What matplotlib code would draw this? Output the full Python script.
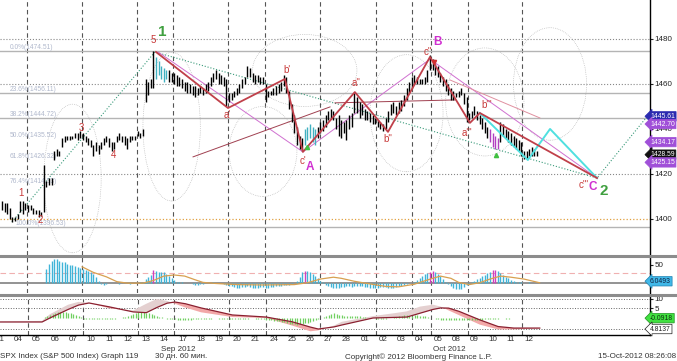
import matplotlib
matplotlib.use("Agg")
import matplotlib.pyplot as plt
from matplotlib.lines import Line2D
from matplotlib.patches import Ellipse

plt.rcParams['font.family'] = ['Liberation Sans', 'DejaVu Sans']

# ---------------- data ----------------
day_labels = ["31", "04", "05", "06", "07", "10", "11", "12", "13", "14", "17", "18", "19", "20", "21",
              "24", "25", "26", "27", "28", "01", "02", "03", "04", "05", "08", "09", "10", "11", "12"]

highs = [1408, 1407, 1407, 1405, 1401, 1401, 1402, 1408, 1408, 1407, 1406, 1406, 1405, 1404, 1404, 1403,
         1424, 1417, 1418, 1418, 1430, 1431, 1430, 1436, 1437, 1437, 1437, 1437, 1438, 1438, 1439, 1438,
         1437, 1436, 1435, 1433, 1434, 1433, 1434, 1436, 1437, 1436, 1434, 1434, 1437, 1438, 1437, 1437,
         1436, 1437, 1437, 1437, 1439, 1438, 1440, 1462, 1461, 1462, 1474.5, 1472, 1470, 1468, 1467, 1466,
         1466, 1465, 1465, 1464, 1463, 1462, 1461, 1461, 1460, 1459, 1459, 1458, 1459, 1458, 1460, 1461,
         1463, 1465, 1466, 1465, 1464, 1463, 1462, 1456, 1456, 1457, 1458, 1460, 1462, 1463, 1468, 1467,
         1465, 1464, 1464, 1463, 1463, 1460, 1457, 1457, 1458, 1459, 1460, 1461, 1464, 1463, 1457, 1451,
         1446, 1441, 1437, 1436, 1440, 1441, 1442, 1441, 1440, 1441, 1443, 1444, 1446, 1448, 1449, 1448,
         1445, 1446, 1444, 1443, 1444, 1446, 1447, 1456, 1454, 1452, 1451, 1449, 1448, 1447, 1446, 1445,
         1444, 1443, 1442, 1445, 1448, 1451, 1452, 1450, 1452, 1453, 1455, 1458, 1461, 1463, 1464, 1463,
         1462, 1462, 1463, 1466, 1473, 1471, 1469, 1468, 1465, 1463, 1462, 1460, 1458, 1457, 1456, 1457,
         1458, 1456, 1454, 1447, 1448, 1450, 1448, 1446, 1445, 1443, 1441, 1440, 1438, 1437, 1436, 1443,
         1442, 1440, 1439, 1438, 1437, 1436, 1435, 1434, 1430, 1430, 1431, 1432, 1431, 1430]
lows = [1404, 1403, 1402, 1400, 1398.5, 1399, 1400, 1403, 1402, 1404, 1403, 1404, 1402, 1402, 1401, 1401.5,
        1403, 1414, 1415, 1415, 1426, 1428, 1428, 1432, 1434, 1435, 1435, 1435.5, 1436, 1435, 1436, 1435,
        1434, 1433, 1432, 1428, 1430, 1429, 1431, 1433, 1434, 1432, 1430, 1431, 1434, 1435, 1434, 1433,
        1431, 1434, 1435, 1435, 1437, 1436, 1437, 1452, 1455, 1458, 1458, 1462, 1464, 1462, 1461, 1462,
        1461, 1461, 1460, 1459, 1459, 1458, 1457, 1456, 1456, 1455, 1454, 1455, 1456, 1455, 1456, 1457,
        1459, 1461, 1462, 1460, 1460, 1459, 1450, 1452, 1453, 1454, 1455, 1456, 1458, 1460, 1463, 1463,
        1461, 1460, 1461, 1460, 1460, 1452, 1454, 1455, 1455, 1455, 1456, 1457, 1459, 1456, 1449, 1443,
        1438, 1433, 1431, 1430, 1433, 1435, 1436, 1434, 1433, 1436, 1438, 1439, 1441, 1444, 1445, 1444,
        1440, 1437, 1436, 1438, 1435, 1440, 1441, 1447, 1447, 1445, 1446, 1444, 1444, 1443, 1442, 1442,
        1441, 1440, 1439, 1440, 1443, 1446, 1447, 1446, 1447, 1448, 1450, 1453, 1456, 1458, 1460, 1460,
        1460, 1460, 1460, 1461, 1466, 1466, 1464, 1463, 1461, 1459, 1457, 1455, 1453, 1453, 1454, 1454,
        1455, 1451, 1443, 1444, 1445, 1446, 1444, 1442, 1440, 1438, 1436, 1434, 1432, 1431, 1431, 1434,
        1437, 1436, 1434, 1433, 1432, 1431, 1430, 1428, 1426.5, 1427, 1428, 1428, 1428, 1428]

# fibonacci retracement levels
fib_pct = ["0.0%", "23.6%", "38.2%", "50.0%", "61.8%", "76.4%", "100.0%"]
fib_val = [1474.51, 1456.11, 1444.72, 1435.52, 1426.32, 1414.93, 1396.53]

# Elliott wave zigzag (bar index, price)
wave_k = [59.0, 86.6, 108.4, 115.3, 135.2, 147.9, 164.0, 179.3, 183.1, 228.0]
wave_p = [1474.2, 1449.3, 1462.2, 1429.8, 1456.4, 1438.7, 1472.0, 1442.7, 1447.1, 1418.2]
trend_k = [3.8, 58.6, 228.0, 248.3]
trend_p = [1398.7, 1474.2, 1418.2, 1447.1]
cyan_k = [183.1, 201.5, 210.0, 228.0]
cyan_p = [1447.1, 1426.2, 1440.0, 1418.2]
abc_k = [59.8, 115.3, 164.0, 228.0]
abc_p = [1474.2, 1429.8, 1471.0, 1418.2]
chan1_k, chan1_p = [73.2, 125.7], [1427.6, 1449.8]
chan2_k, chan2_p = [127.6, 173.6], [1451.6, 1452.9]
chan3_k, chan3_p = [171.6, 206.1], [1461.8, 1444.9]

# oscillator panel (histogram from bar 17)
osc_start = 17
osc = [40, 52, 62, 66, 65, 62, 59, 57, 54, 51, 49, 47, 44, 41, 38, 36, 33, 30, 26, 18, 8, -2, -4, -2,
       1, 2, 1, 0, -1, 0, 1, 0, -1, 0, 1, 2, 3, 5,
       12, 18, 24, 36, 34, 31, 32, 30, 25, 20, 14, 9,
       5, 4, 3, 2, 1, 0, -2, -3,
       -3, -2, -1, 0, 1,
       2, 3, 2, 1, 0, -1, -3,
       -6, -8, -10, -11, -12, -10, -9, -8, -10, -11, -12, -11, -10, -9, -11, -12, -10, -9, -8, -7, -6, -5,
       -4, -3, -2, 2, 8,
       18, 30, 35, 33, 30, 26, 20, 14, 8, 3,
       -3, -7, -10, -12, -12,
       -11, -10, -9, -8, -8, -9, -7, -6, -7, -8, -9, -10, -11, -12, -12, -11, -10, -9, -10, -11, -12, -11,
       -10, -8, -6, -4,
       -2, 0, 2, 5,
       10, 15, 20, 25,
       28, 32, 34, 31, 26, 20, 12, 5, -2,
       -8, -12, -15, -16, -14, -10,
       -5, -1, 3, 8,
       12, 16, 20, 24, 28,
       32, 36, 37, 34, 28, 22, 18, 14, 10,
       6, 4, 3, 3, 2, 2, 3, 2, 2, 1]
osc_hi = [58, 116, 164, 165, 188, 189]
sig_k = [30.7, 35, 40, 44, 48, 54, 58, 62, 66, 70, 74, 77, 82, 90, 100, 112, 117, 122, 127, 130, 135, 140,
         147, 152, 158, 165, 168, 172, 175, 179, 183, 187, 191, 195, 200, 206]
sig_v = [45, 30, 18, 5, 1, 1, 8, 20, 23, 20, 10, 3, 0, -3, -4, -3, 2, 12, 17, 14, 6, 0,
         -8, -9, -2, 14, 20, 14, 3, -3, 2, 12, 20, 17, 12, 2]

# MACD panel
macd_k = [-1, 15, 18, 25, 29, 33, 41, 50, 55, 59, 63, 66, 70, 76, 88, 101, 111, 118, 121, 127, 130, 142,
          150, 155, 160, 165, 168, 171, 175, 183, 190, 196, 206]
macd_slow = [-2.1, -2.1, 0, 4.5, 6.8, 7.9, 5.8, 3.2, 2.8, 5.5, 7.8, 8.4, 7.5, 5.3, 1.6, 0.5, -2, -4.8, -5.8,
             -4.7, -3.7, 0, 0.3, 0.5, 2.5, 4.5, 5.3, 5.2, 3.5, -1, -4.5, -5.3, -5.3]
macd_fast = [-2, -1.5, 2, 7, 8.5, 8, 5, 4, 7.5, 10, 9, 7.5, 5.5, 3, 0.5, 0, -4, -7, -6.5, -4, -2, 1,
             2.5, 3.5, 6, 7, 6, 4, 1.5, -3.5, -6, -6, -5.5]
ghist_start = 16
ghist = [0.5, 1, 1.5, 2, 2.5, 3, 3, 3.2, 3, 2.8, 2.5, 2, 1.5, 1, 0.5,
         -0.3, -0.5, -0.5, -0.6, -0.5, -0.4, -0.3, -0.3, -0.4, -0.5, -0.5, -0.4, -0.3, -0.2, 0, 0.3, 0.6, 1, 1.5, 2,
         2.5, 3, 3.2, 3, 2.8, 2.5, 2, 1.5, 1, 0.5, 0.3, 0, -0.3, -0.5, -0.6, -0.7,
         -0.8, -0.9, -1, -1, -0.9, -0.8, -0.7, -0.6, -0.5, -0.5, -0.4, -0.4, -0.3, -0.3, -0.2, -0.2, -0.3, -0.4,
         -0.5, -0.5, -0.6, -0.6, -0.5, -0.5, -0.4, -0.4, -0.3, -0.3, -0.2, -0.2, -0.3, -0.4, -0.5, -0.6, -0.8,
         -1, -1.2, -1.4, -1.6, -1.8, -2, -2.3, -2.6, -2.9,
         -3.2, -3.4, -3.5, -3.4, -3.2, -2.8, -2.4, -2, -1.5, -1, -0.5, 0, 0.6, 1.2, 1.8,
         2.2, 2.4, 2.2, 1.8, 1.4, 1, 0.8, 0.9, 1.1, 1.3, 1.2, 1, 0.7, 0.4, 0.2,
         0, -0.2, -0.4, -0.5, -0.5, -0.4, -0.3, -0.2, 0, 0.3, 0.6, 0.9, 1.2, 1.5, 1.4, 1.2, 1.3, 1.5, 1.4, 1.2,
         1, 0.8, 0.5, 0.2, 0, -0.3, -0.6, -0.9, -1.1, -1.2, -1.3, -1.2, -1.1, -1.2, -1.3,
         -1.2, -1.1, -1, -0.9, -1, -1.1, -1, -0.9, -0.8, -0.7, -0.6, -0.5, -0.4, -0.3, -0.3, -0.2, -0.2, -0.3,
         -0.3, -0.2, -0.2, -0.1, -0.1, 0, -0.1, -0.1, 0, 0, -0.1, -0.1, 0]

grid_k = [9.6, 30.7, 51.7, 65.5, 86.6, 100.8, 121.8, 143.3, 157.1, 164.4, 178.5, 199.2]

price_tags = [("1445.61", 1445.61, "#2b2bb0", "white"), ("1442.70", 1442.2, "#a050d8", "white"),
              ("1434.17", 1434.17, "#a050d8", "white"), ("1428.59", 1428.59, "#111111", "white"),
              ("1425.15", 1425.15, "#a050d8", "white")]

# ---------------- figure ----------------
W, H = 677, 361
fig = plt.figure(figsize=(W / 100, H / 100), dpi=100)
fig.patch.set_facecolor("white")
right = 650 / W
ax1 = fig.add_axes([0, 1 - 255 / H, right, 255 / H])
ax2 = fig.add_axes([0, 1 - 293 / H, right, 36 / H])
ax3 = fig.add_axes([0, 1 - 335 / H, right, 38 / H])

xmin, xmax = -0.77, 248.3
FS = 5.8
TAGFS = 4.9
TAGX = 1.0
TAGBOX = "larrow,pad=0.18"
for ax in (ax1, ax2, ax3):
    ax.set_xlim(xmin, xmax)
    ax.set_facecolor("white")
    for s in ("left", "top", "bottom"):
        ax.spines[s].set_visible(False)
    ax.spines["right"].set_color("black")
    ax.spines["right"].set_linewidth(1)
    ax.yaxis.tick_right()
    ax.tick_params(axis="y", length=2, pad=1.5, labelsize=FS, colors="#222222")
    for g in grid_k:
        ax.axvline(g, color="#555555", lw=0.8, ls=(0, (4, 3)), zorder=1)
ax3.spines["bottom"].set_visible(True)
ax3.spines["bottom"].set_linewidth(1)

# ---- main price panel ----
ax1.set_ylim(1384, 1497.3)
ax1.set_xticks([])
ax1.set_yticks([1400, 1420, 1440, 1460, 1480])
for lv in (1420, 1460, 1480):
    ax1.axhline(lv, color="#888888", lw=0.8, ls=":", zorder=1)
ax1.axhline(1400, color="#e0a040", lw=0.9, ls=":", zorder=1)
for pct, v in zip(fib_pct, fib_val):
    if pct in ("0.0%", "23.6%", "38.2%", "100.0%"):
        ax1.axhline(v, color="#b4b4b4", lw=1.0, zorder=1)
    xk = 5.0 if pct == "100.0%" else 3.1
    ax1.text(xk, v + 1.6, f"{pct}({v:.2f})", fontsize=4.8, color="#b0b8cc", va="center", ha="left")

# dotted band ellipses (decorative envelopes)
for (cx, cy, w, h) in [(27, 1418, 22, 66), (65, 1441, 22, 66), (116, 1466, 40, 32),
                       (155, 1447, 28, 52), (185, 1452, 30, 48), (210, 1460, 28, 50), (100, 1430, 26, 40)]:
    ax1.add_patch(Ellipse((cx, cy), w, h, fill=False, ls=":", lw=0.5, ec="#b0b0b0", zorder=1))

bar_k = list(range(len(highs)))
cols = []
for k in bar_k:
    if 59 <= k <= 63 or 116 <= k <= 120:
        cols.append("#40b0c0")
    elif 187 <= k <= 190:
        cols.append("#b040c0")
    else:
        cols.append("black")
ax1.vlines(bar_k, lows, highs, colors=cols, lw=1.0, zorder=3)

ax1.plot(trend_k, trend_p, color="#3a9a7a", lw=0.8, ls=":", zorder=2)
ax1.plot(abc_k, abc_p, color="#d070d0", lw=0.7, zorder=2)
ax1.plot(chan1_k, chan1_p, color="#a04050", lw=0.7, zorder=2)
ax1.plot(chan2_k, chan2_p, color="#a04050", lw=0.7, zorder=2)
ax1.plot(chan3_k, chan3_p, color="#e090a0", lw=0.7, zorder=2)
ax1.plot(cyan_k, cyan_p, color="#50e0e0", lw=1.4, zorder=4)
ax1.plot(wave_k, wave_p, color="#c0404a", lw=1.3, zorder=4)

red = "#c83838"
for t, k, p, fs in [("5", 57.9, 1479.6, 7), ("1", 7.3, 1411.6, 7), ("2", 14.6, 1399.5, 7),
                    ("3", 30.3, 1440.4, 7), ("4", 42.9, 1428.4, 7), ("a'", 86.2, 1446.2, 7),
                    ("b'", 109.2, 1466.2, 7), ("c'", 115.3, 1425.6, 7), ("a''", 135.6, 1460.4, 7),
                    ("b''", 147.9, 1435.6, 7), ("c''", 163.2, 1474.2, 7), ("a'''", 178.2, 1438.2, 7),
                    ("b'''", 185.8, 1450.7, 7), ("c'''", 222.8, 1415.1, 7)]:
    ax1.text(k, p, t, color=red, fontsize=fs, ha="center", va="center", zorder=6)
for t, k, p in [("1", 61.3, 1483.0), ("2", 230.7, 1412.4)]:
    ax1.text(k, p, t, color="#40a040", fontsize=11, fontweight="bold", ha="center", va="center", zorder=6)
for t, k, p in [("A", 118.0, 1423.1), ("B", 166.7, 1478.7), ("C", 226.4, 1414.2)]:
    ax1.text(k, p, t, color="#d030d0", fontsize=8.5, fontweight="bold", ha="center", va="center", zorder=6)
ax1.plot([116.9, 189.3], [1432.0, 1428.4], ls="none", marker="^", ms=3, color="#40c040", zorder=6)
ax1.plot([165.5], [1469.8], ls="none", marker="v", ms=3, color="#d03030", zorder=6)

for txt, v, fc, tc in price_tags:
    ax1.text(TAGX, v, txt, transform=ax1.get_yaxis_transform(), fontsize=TAGFS, color=tc, ha="left",
             va="center", clip_on=False, zorder=7,
             bbox=dict(boxstyle=TAGBOX, fc=fc, ec=fc, lw=0.5))

# ---- oscillator panel ----
ax2.set_ylim(-25.7, 71.6)
ax2.set_xticks([])
ax2.set_yticks([50])
ax2.axhline(0, color="#8a8a8a", lw=1.3, zorder=1)
ax2.axhline(28, color="#f0b0b0", lw=0.8, ls=(0, (5, 3)), zorder=1)
osc_k = [osc_start + i for i in range(len(osc))]
ocol = ["#d040c0" if k in osc_hi else "#40b4d8" for k in osc_k]
ax2.vlines(osc_k, 0, osc, colors=ocol, lw=1.0, zorder=2)
ax2.plot(sig_k, sig_v, color="#d8a050", lw=0.9, zorder=3)
ax2.text(TAGX, 6.0493, "6.0493", transform=ax2.get_yaxis_transform(), fontsize=TAGFS, color="#102040",
         ha="left", va="center", clip_on=False, zorder=7,
         bbox=dict(boxstyle=TAGBOX, fc="#40b8e8", ec="#2080b0", lw=0.5))

# ---- MACD panel ----
ax3.set_ylim(-8.95, 11.05)
ax3.set_yticks([10, 5])
for lv in (10, 5, -5.8):
    ax3.axhline(lv, color="#666666", lw=0.7, ls=":", zorder=1)
ax3.fill_between(macd_k, macd_slow, macd_fast, where=[f >= s for f, s in zip(macd_fast, macd_slow)],
                 interpolate=True, color="#e4d0d0", lw=0, zorder=2)
ax3.fill_between(macd_k, macd_slow, macd_fast, where=[f < s for f, s in zip(macd_fast, macd_slow)],
                 interpolate=True, color="#f2a8a8", lw=0, zorder=2)
gk = [ghist_start + i for i in range(len(ghist))]
ax3.vlines(gk, 0, ghist, colors="#70d060", lw=0.9, zorder=3)
ax3.plot(macd_k, macd_slow, color="#8a2030", lw=0.9, zorder=4)
ax3.text(TAGX, -0.0918, "-0.0918", transform=ax3.get_yaxis_transform(), fontsize=TAGFS, color="#103010",
         ha="left", va="center", clip_on=False, zorder=7,
         bbox=dict(boxstyle=TAGBOX, fc="#40e040", ec="#209020", lw=0.5))
ax3.text(TAGX, -5.8, "4.8137", transform=ax3.get_yaxis_transform(), fontsize=TAGFS, color="#222222",
         ha="left", va="center", clip_on=False, zorder=7,
         bbox=dict(boxstyle=TAGBOX, fc="white", ec="#222222", lw=0.5))

day_k = [7 * i - 1.15 for i in range(len(day_labels))]
ax3.set_xticks(day_k)
ax3.set_xticklabels(day_labels)
ax3.tick_params(axis="x", length=0, pad=0.8, labelsize=FS, colors="#333333")
ax3.text(67.4, -0.37, "Sep 2012", transform=ax3.get_xaxis_transform(), fontsize=FS, color="#333333",
         ha="center", va="center", clip_on=False)
ax3.text(171.3, -0.37, "Oct 2012", transform=ax3.get_xaxis_transform(), fontsize=FS, color="#333333",
         ha="center", va="center", clip_on=False)

# panel separators
for ypix in (256, 294.5):
    fig.add_artist(Line2D([0, 1], [1 - ypix / H] * 2, transform=fig.transFigure, color="#8c8c8c", lw=2.2))

fy = 1 - 357 / H
fig.text(0.0, fy, "SPX Index (S&P 500 Index) Graph 119", fontsize=FS, color="#333333", va="center")
fig.text(155 / W, fy, "30 дн. 60 мин.", fontsize=FS, color="#333333", va="center")
fig.text(345 / W, fy, "Copyright© 2012 Bloomberg Finance L.P.", fontsize=FS, color="#333333", va="center")
fig.text(0.999, fy, "15-Oct-2012 08:26:08", fontsize=FS, color="#333333", va="center", ha="right")

fig.savefig("out.png", dpi=100, facecolor="white")
